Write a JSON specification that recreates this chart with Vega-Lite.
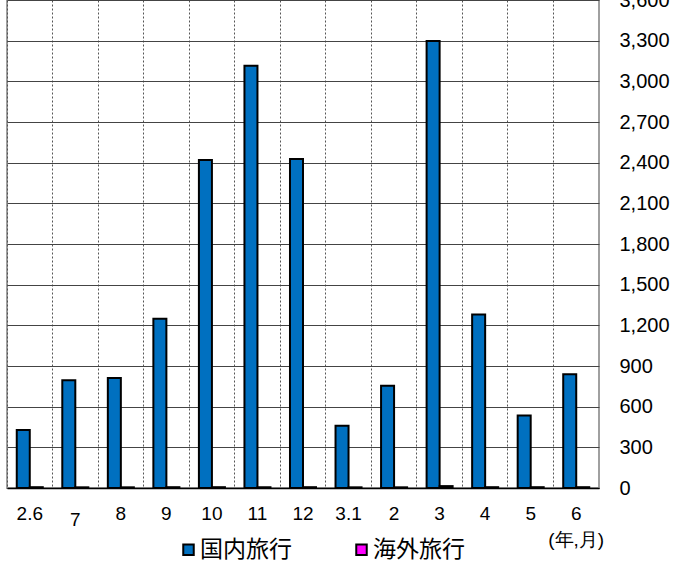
{
  "$schema": "https://vega.github.io/schema/vega-lite/v6.json",
  "width": 592,
  "height": 488,
  "autosize": {"type": "none"},
  "padding": {"left": 7, "top": 0, "right": 74, "bottom": 76},
  "background": "white",
  "config": {
    "view": {"stroke": "#a0a0a0", "strokeWidth": 2},
    "font": "Liberation Sans"
  },
  "data": {
    "values": [
      {"month": "2.6", "series": "国内旅行", "value": 428},
      {"month": "7", "series": "国内旅行", "value": 794},
      {"month": "8", "series": "国内旅行", "value": 811},
      {"month": "9", "series": "国内旅行", "value": 1249},
      {"month": "10", "series": "国内旅行", "value": 2420},
      {"month": "11", "series": "国内旅行", "value": 3115},
      {"month": "12", "series": "国内旅行", "value": 2427},
      {"month": "3.1", "series": "国内旅行", "value": 460},
      {"month": "2", "series": "国内旅行", "value": 755},
      {"month": "3", "series": "国内旅行", "value": 3298},
      {"month": "4", "series": "国内旅行", "value": 1279},
      {"month": "5", "series": "国内旅行", "value": 534},
      {"month": "6", "series": "国内旅行", "value": 839},
      {"month": "2.6", "series": "海外旅行", "value": 6},
      {"month": "7", "series": "海外旅行", "value": 5},
      {"month": "8", "series": "海外旅行", "value": 5},
      {"month": "9", "series": "海外旅行", "value": 6},
      {"month": "10", "series": "海外旅行", "value": 6},
      {"month": "11", "series": "海外旅行", "value": 6},
      {"month": "12", "series": "海外旅行", "value": 6},
      {"month": "3.1", "series": "海外旅行", "value": 5},
      {"month": "2", "series": "海外旅行", "value": 5},
      {"month": "3", "series": "海外旅行", "value": 14},
      {"month": "4", "series": "海外旅行", "value": 6},
      {"month": "5", "series": "海外旅行", "value": 6},
      {"month": "6", "series": "海外旅行", "value": 6}
    ]
  },
  "mark": {"type": "bar", "stroke": "black", "strokeWidth": 2},
  "encoding": {
    "x": {
      "field": "month",
      "type": "nominal",
      "sort": ["2.6", "7", "8", "9", "10", "11", "12", "3.1", "2", "3", "4", "5", "6"],
      "scale": {"paddingInner": 0, "paddingOuter": 0},
      "axis": {
        "title": null,
        "labelAngle": 0,
        "labelFontSize": 19,
        "labelColor": "black",
        "labelPadding": {"condition": {"test": "datum.value == '7'", "value": 22}, "value": 16},
        "labelLineHeight": 26,
        "labelExpr": "datum.label == '6' ? ['6', '(年,月)'] : datum.label",
        "ticks": false,
        "domain": true,
        "domainColor": "black",
        "domainWidth": 1.5,
        "grid": true,
        "bandPosition": 0,
        "gridColor": "#555555",
        "gridDash": [2, 2],
        "gridWidth": 1
      }
    },
    "xOffset": {
      "field": "series",
      "type": "nominal",
      "sort": ["国内旅行", "海外旅行"],
      "scale": {"paddingOuter": 0.75, "paddingInner": 0}
    },
    "y": {
      "field": "value",
      "type": "quantitative",
      "scale": {"domain": [0, 3600], "nice": false},
      "axis": {
        "title": null,
        "orient": "right",
        "values": [0, 300, 600, 900, 1200, 1500, 1800, 2100, 2400, 2700, 3000, 3300, 3600],
        "format": ",.0f",
        "labelFontSize": 20,
        "labelColor": "black",
        "labelAlign": "left",
        "labelPadding": 20,
        "labelFlush": false,
        "labelOverlap": false,
        "ticks": false,
        "domain": false,
        "grid": true,
        "gridColor": "#444444",
        "gridWidth": 1.2
      }
    },
    "color": {
      "field": "series",
      "type": "nominal",
      "sort": ["国内旅行", "海外旅行"],
      "scale": {"domain": ["国内旅行", "海外旅行"], "range": ["#0070C0", "#FF00FF"]},
      "legend": {
        "title": null,
        "orient": "none",
        "legendX": 170,
        "legendY": 538,
        "padding": 0,
        "direction": "horizontal",
        "symbolType": "square",
        "symbolSize": 110,
        "symbolStrokeColor": "black",
        "symbolStrokeWidth": 2,
        "labelFont": "Noto Sans CJK JP",
        "labelFontSize": 23,
        "labelColor": "black",
        "labelOffset": 0,
        "columnPadding": 58
      }
    }
  }
}
